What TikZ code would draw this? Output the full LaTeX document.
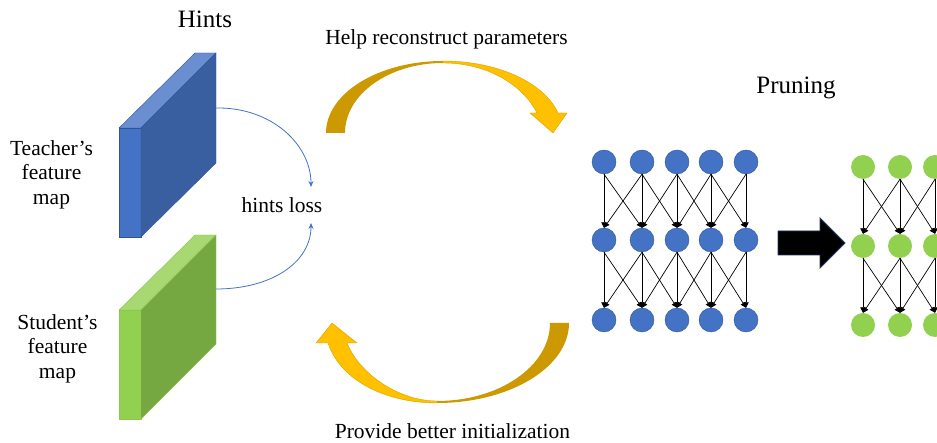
\documentclass[tikz,border=0pt]{standalone}
\usepackage{fontspec}
\setmainfont{Liberation Serif}
\usetikzlibrary{arrows.meta}
\definecolor{tfront}{HTML}{4472C4}
\definecolor{ttop}{HTML}{6A8ED0}
\definecolor{tside}{HTML}{3A5FA0}
\definecolor{tedge}{HTML}{2F5597}
\definecolor{gfront}{HTML}{92D050}
\definecolor{gtop}{HTML}{A8D872}
\definecolor{gside}{HTML}{76A842}
\definecolor{gedge}{HTML}{8CC84A}
\definecolor{golddark}{HTML}{CC9900}
\definecolor{goldlight}{HTML}{FFC000}
\definecolor{goldedge}{HTML}{D9A300}
\definecolor{navy}{HTML}{203864}
\tikzset{
  lbl/.style={font=\fontsize{21.5}{24.5}\selectfont, inner sep=0pt, anchor=base},
  ttl/.style={font=\fontsize{25}{28}\selectfont, inner sep=0pt, anchor=base},
  side/.style={font=\fontsize{21.5}{24.5}\selectfont, inner sep=0pt, align=center},
  hintarrow/.style={draw=tfront, line width=0.8pt, -{Stealth[length=6pt,width=5pt]}},
  bluenode/.style={circle, fill=tfront, draw=tedge, line width=0.4pt, minimum size=24pt, inner sep=0pt},
  greennode/.style={circle, fill=gfront, minimum size=24pt, inner sep=0pt},
  netarrow/.style={draw=black, line width=0.7pt, -{Triangle[length=5.5pt,width=5.5pt]}},
}
\begin{document}
\begin{tikzpicture}[x=1pt,y=-1pt]
\useasboundingbox (0,0) rectangle (937,443);
\clip (0,0) rectangle (937,443);

% ---- titles and labels
\node[ttl] (hints) at (205,28) {Hints};
\node[ttl] (pruning) at (796,94) {Pruning};
\node[lbl] (help) at (446.5,45) {Help reconstruct parameters};
\node[lbl] (provide) at (452.5,438) {Provide better initialization};
\node[side] (teacher) at (51.5,174.5) {Teacher’s\\feature\\map};
\node[side] (student) at (57.5,348.5) {Student’s\\feature\\map};
\node[lbl] (loss) at (282,213) {hints loss};

% ---- teacher block
\fill[tfront, draw=tedge, line width=0.4pt] (119,128) -- (141,128) -- (141,237) -- (119,237) -- cycle;
\fill[ttop, draw=tedge, line width=0.4pt] (119,128) -- (195,53) -- (216,53) -- (141,128) -- cycle;
\fill[tside, draw=tedge, line width=0.4pt] (141,128) -- (216,53) -- (216,163) -- (141,237) -- cycle;

% ---- student block
\fill[gfront, draw=gedge, line width=0.4pt] (119,310) -- (141,310) -- (141,419) -- (119,419) -- cycle;
\fill[gtop, draw=gedge, line width=0.4pt] (119,310) -- (195,235) -- (216,235) -- (141,310) -- cycle;
\fill[gside, draw=gedge, line width=0.4pt] (141,310) -- (216,235) -- (216,344) -- (141,419) -- cycle;

% ---- hint curves
\coordinate (tout) at (216,108);
\coordinate (sout) at (216,289);
\coordinate (lossin1) at (311,187);
\coordinate (lossin2) at (311,223);
\draw[hintarrow] (tout) .. controls (272,107) and (311,145) .. (lossin1);
\draw[hintarrow] (sout) .. controls (272,289) and (311,262) .. (lossin2);

% ---- top curved arrow
\fill[golddark] (326,133) .. controls (326,93.3) and (378.4,61) .. (443,61)
   -- (443,63) .. controls (388.9,63) and (345,94.4) .. (345,133) -- cycle;
\fill[goldlight, draw=goldedge, line width=0.4pt] (443,61) .. controls (500,61) and (545,84) .. (558,113)
   -- (567,113) -- (553,133) -- (530,113) -- (537,113)
   .. controls (524,87) and (490,63) .. (443,63) -- cycle;

% ---- bottom curved arrow
\fill[golddark] (569,323) .. controls (569,367.2) and (509.9,403) .. (437,403)
   -- (437,401) .. controls (499.4,401) and (550,366) .. (550,323) -- cycle;
\fill[goldlight, draw=goldedge, line width=0.4pt] (437,403) .. controls (385,403) and (340,380) .. (328,343)
   -- (316,343) -- (332,323) -- (357,343) -- (347,343)
   .. controls (360,375) and (400,401) .. (437,401) -- cycle;

% ---- blue network
\foreach \c/\x in {1/604,2/642,3/677,4/711,5/746}{
  \node[bluenode] (b1\c) at (\x,162) {};
  \node[bluenode] (b2\c) at (\x,240) {};
  \node[bluenode] (b3\c) at (\x,320) {};
}
\foreach \r/\s in {1/2,2/3}{
  \foreach \c in {1,...,5}{
    \draw[netarrow] (b\r\c.south) -- (b\s\c.north);
  }
  \foreach \c/\d in {1/2,2/3,3/4,4/5}{
    \draw[netarrow] (b\r\c.south) -- (b\s\d.north);
    \draw[netarrow] (b\r\d.south) -- (b\s\c.north);
  }
}

% ---- block arrow
\fill[black, draw=navy, line width=0.8pt] (778,231) -- (820,231) -- (820,218) -- (845,243)
   -- (820,268) -- (820,255) -- (778,255) -- cycle;

% ---- green network
\foreach \c/\x in {1/863,2/900,3/935}{
  \node[greennode] (g1\c) at (\x,167) {};
  \node[greennode] (g2\c) at (\x,246) {};
  \node[greennode] (g3\c) at (\x,325) {};
}
\foreach \r/\s in {1/2,2/3}{
  \foreach \c in {1,2,3}{
    \draw[netarrow] (g\r\c.south) -- (g\s\c.north);
  }
  \foreach \c/\d in {1/2,2/3}{
    \draw[netarrow] (g\r\c.south) -- (g\s\d.north);
    \draw[netarrow] (g\r\d.south) -- (g\s\c.north);
  }
}
\end{tikzpicture}
\end{document}
